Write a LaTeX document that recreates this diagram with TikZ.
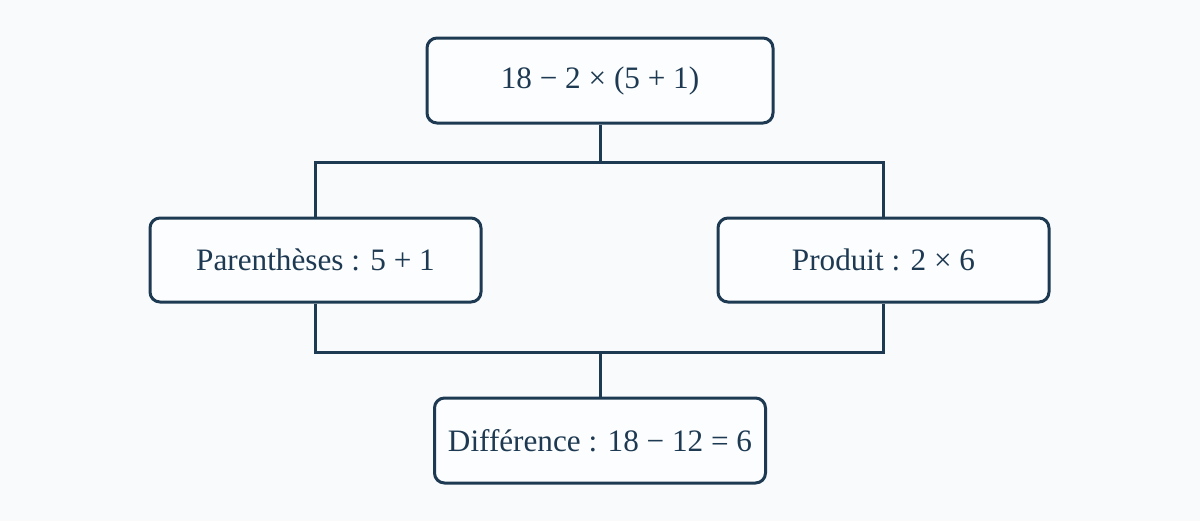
\documentclass[tikz,border=0pt]{standalone}
\usepackage{fontspec}
\setmainfont{Liberation Serif}
\definecolor{ink}{HTML}{1E3A52}
\definecolor{bg}{HTML}{F8FAFC}
\definecolor{boxfill}{HTML}{FCFDFE}
\begin{document}
\begin{tikzpicture}[x=0.5pt,y=-0.5pt,
  calcbox/.style={draw=ink,line width=1.5pt,rounded corners=5pt,fill=boxfill,
    text=ink,font=\fontsize{15.6pt}{18pt}\selectfont,inner sep=0pt,anchor=center},
  link/.style={draw=ink,line width=1.5pt}]
\fill[bg] (0,0) rectangle (1200,521);
\useasboundingbox (0,0) rectangle (1200,521);
\node[calcbox,minimum width=173pt,minimum height=42.5pt] (top) at (600,80.5) {18 − 2 × (5 + 1)};
\node[calcbox,minimum width=165.5pt,minimum height=42pt] (left) at (315.5,260) {Parenthèses : 5 + 1};
\node[calcbox,minimum width=165.5pt,minimum height=42pt] (right) at (883.5,260) {Produit : 2 × 6};
\node[calcbox,minimum width=165.5pt,minimum height=42.5pt] (bot) at (600,440.5) {Différence : 18 − 12 = 6};
\coordinate (j1) at (600,162);
\coordinate (j2) at (600,352);
\draw[link] (top.south) -- (j1);
\draw[link] (left.north) |- (j1) -| (right.north);
\draw[link] (left.south) |- (j2) -| (right.south);
\draw[link] (j2) -- (bot.north);
\end{tikzpicture}
\end{document}
